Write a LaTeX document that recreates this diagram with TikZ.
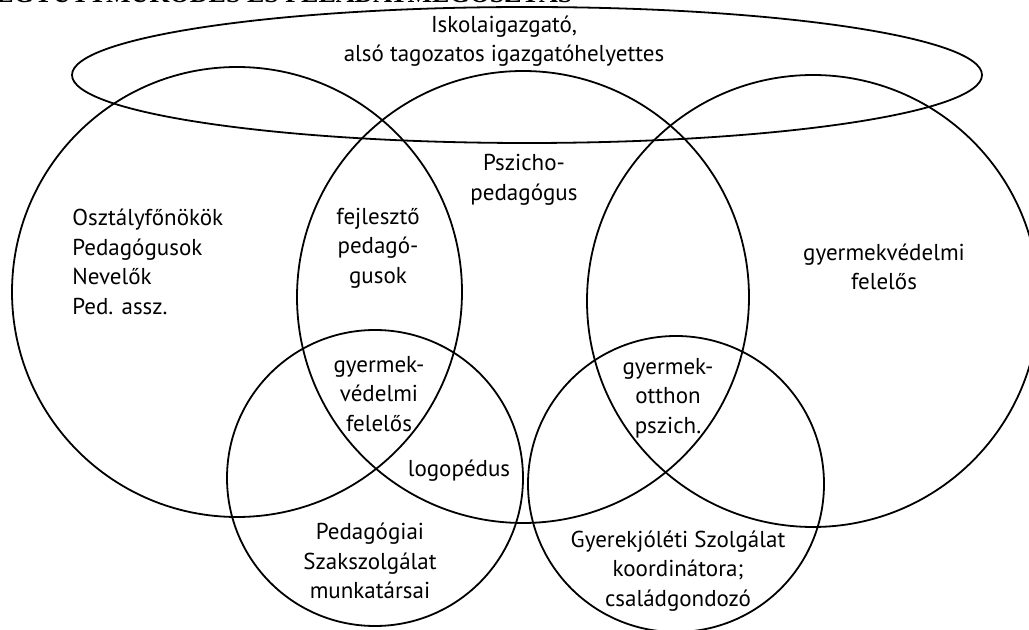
\documentclass[tikz,border=0pt]{standalone}
\usepackage{fontspec}
\setmainfont{PT Sans}
\newfontfamily\titlefont{Liberation Serif}
\usetikzlibrary{shapes.geometric}

\tikzset{
  ring/.style={draw, circle, line width=0.9pt, minimum size=#1},
  oval/.style={draw, ellipse, line width=0.9pt, minimum width=455pt, minimum height=68pt},
  lbl/.style={align=center, inner sep=0pt, font=\fontsize{11.5}{14.8}\selectfont},
}

\begin{document}
\begin{tikzpicture}[x=0.5pt, y=-0.5pt]
  \clip (0,0) rectangle (1029,630);
  % title, cut off at the top edge
  \node[anchor=base west, inner sep=0pt, font=\titlefont\bfseries\fontsize{13}{15}\selectfont] (cim) at (-4,2.5) {EGYÜTTMŰKÖDÉS ÉS FELADATMEGOSZTÁS};

  % the five circles and the oval of the school leaders
  \node[ring=225pt] (osztaly) at (237,292) {};
  \node[ring=226pt] (pszicho) at (523,297) {};
  \node[ring=226pt] (vedelem) at (813,301) {};
  \node[ring=148pt] (szakszolg) at (375,478) {};
  \node[ring=148pt] (jolet) at (676,484) {};
  \node[oval] (vezetes) at (527,75) {};

  % labels
  \node[lbl] (igazgato) at (504,41) {Iskolaigazgató,\\alsó tagozatos igazgatóhelyettes};
  \node[lbl, align=left, anchor=west] (tanarok) at (72,262) {Osztályfőnökök\\Pedagógusok\\Nevelők\\Ped. assz.};
  \node[lbl] (fejleszto) at (378,248) {fejlesztő\\pedagó-\\gusok};
  \node[lbl] (pszichped) at (524,180) {Pszicho-\\pedagógus};
  \node[lbl] (gyvfelelos) at (884,267) {gyermekvédelmi\\felelős};
  \node[lbl] (gyvkozos) at (379,394) {gyermek-\\védelmi\\felelős};
  \node[lbl] (otthon) at (668,398) {gyermek-\\otthon\\pszich.};
  \node[lbl] (logoped) at (459,471) {logopédus};
  \node[lbl] (szakmunka) at (370,561) {Pedagógiai\\Szakszolgálat\\munkatársai};
  \node[lbl] (koord) at (678,571) {Gyerekjóléti Szolgálat\\koordinátora;\\családgondozó};
\end{tikzpicture}
\end{document}
